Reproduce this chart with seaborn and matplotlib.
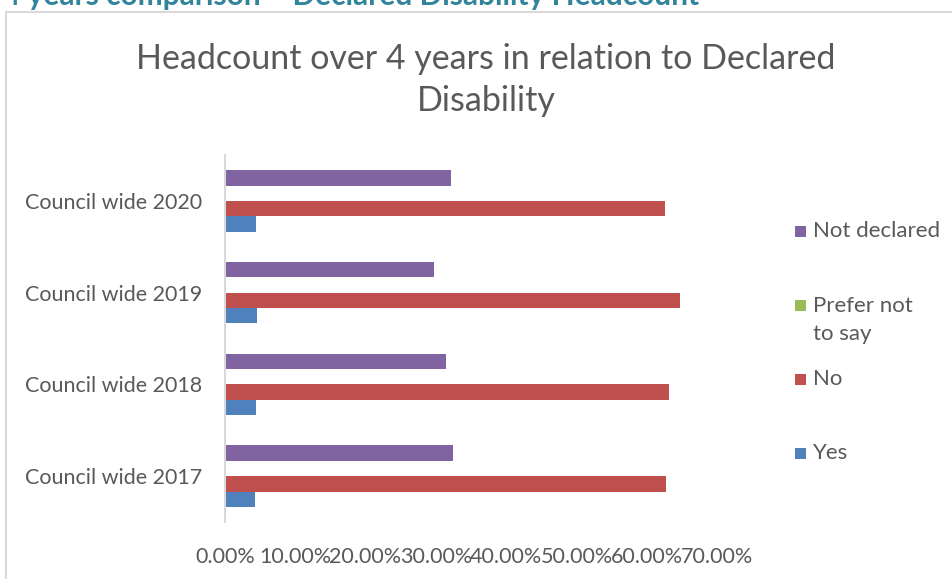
import matplotlib
matplotlib.use("Agg")
import matplotlib.pyplot as plt
from matplotlib.patches import Rectangle
from matplotlib.ticker import FuncFormatter
import pandas as pd
import seaborn as sns

# Share of headcount by declared disability status (fraction of staff)
years = ["Council wide 2020", "Council wide 2019", "Council wide 2018", "Council wide 2017"]
not_declared = [0.322, 0.298, 0.315, 0.325]
prefer_not = [0.002, 0.002, 0.002, 0.002]
no = [0.626, 0.648, 0.632, 0.628]
yes = [0.044, 0.045, 0.044, 0.043]

series = ["Not declared", "Prefer not to say", "No", "Yes"]
legend_labels = ["Not declared", "Prefer not\nto say", "No", "Yes"]
colors = ["#8064A2", "#9BBB59", "#C0504D", "#4F81BD"]
x_ticks = [0.0, 0.1, 0.2, 0.3, 0.4, 0.5, 0.6, 0.7]

df = pd.DataFrame({
    "Year": years * 4,
    "Status": [s for s in series for _ in years],
    "Share": not_declared + prefer_not + no + yes,
})

sns.set_theme(style="white")
plt.rcParams["font.family"] = ["Lato", "DejaVu Sans"]
text_col = "#595959"

fig = plt.figure(figsize=(9.52, 5.79), dpi=100)
ax = fig.add_axes([0.2363, 0.0984, 0.5169, 0.6339])

sns.barplot(data=df, y="Year", x="Share", hue="Status", order=years,
            hue_order=series, palette=colors, orient="h", width=0.67,
            saturation=1, ax=ax, legend=False, edgecolor="none")

ax.set_xlim(0, 0.7)
ax.set_ylim(3.5, -0.5)
ax.set_xticks(x_ticks)
ax.xaxis.set_major_formatter(FuncFormatter(lambda v, _: f"{v * 100:.2f}%"))
ax.set_xlabel("")
ax.set_ylabel("")
ax.tick_params(axis="x", labelsize=15.5, colors=text_col, length=0, pad=18)
ax.tick_params(axis="y", labelsize=15.5, colors=text_col, length=0, pad=16.5)
for side in ["top", "right", "bottom"]:
    ax.spines[side].set_visible(False)
ax.spines["left"].set_color("#D9D9D9")
ax.spines["left"].set_linewidth(1.5)
ax.grid(False)

# Chart frame
fig.patches.append(Rectangle((6 / 952, -0.02), 1.0, 1 - 12 / 579 + 0.02,
                             transform=fig.transFigure, fill=False,
                             edgecolor="#D9D9D9", linewidth=1.5))

# Section heading above the frame
fig.text(3 / 952, 1 - 5 / 579, "4 years comparison \u2013 Declared Disability Headcount",
         color="#31849B", fontsize=21.5, fontweight="bold", ha="left", va="baseline")

# Chart title
fig.text(486 / 952, 1 - 80 / 579,
         "Headcount over 4 years in relation to Declared\nDisability",
         ha="center", va="center", fontsize=24.5, color=text_col, linespacing=1.36)

# Legend
legend_y = [231, 305, 379, 453]
for label, col, yp in zip(legend_labels, colors, legend_y):
    fig.patches.append(Rectangle((795 / 952, 1 - (yp + 6) / 579), 11 / 952, 11 / 579,
                                 transform=fig.transFigure, facecolor=col,
                                 edgecolor="none"))
    if "\n" in label:
        fig.text(813 / 952, 1 - (yp - 9) / 579, label, ha="left", va="top",
                 fontsize=16, color=text_col, linespacing=1.5)
    else:
        fig.text(813 / 952, 1 - yp / 579, label, ha="left", va="center",
                 fontsize=16, color=text_col)

fig.savefig("out.png", dpi=100)
